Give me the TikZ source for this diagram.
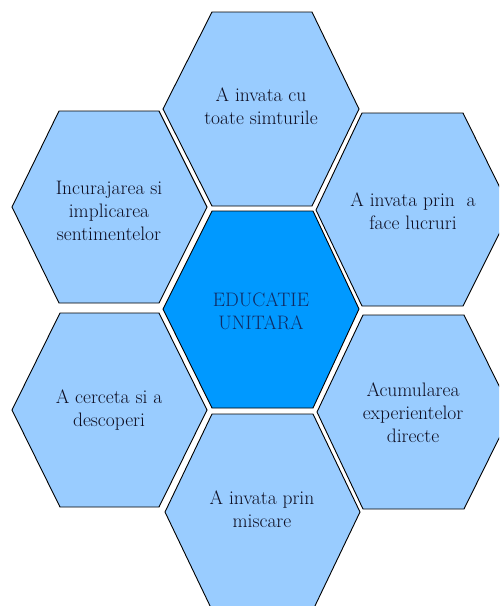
\documentclass[tikz,border=0pt]{standalone}
\definecolor{hexlight}{RGB}{153,204,255}
\definecolor{hexdark}{RGB}{0,153,255}
\definecolor{txtdark}{RGB}{14,14,34}
\definecolor{txtcenter}{RGB}{16,44,100}
\tikzset{
  hexborder/.style={draw=black,line width=0.9pt,line join=miter},
  hextext/.style={align=center,inner sep=0pt,font=\rmfamily\fontsize{19.5}{23}\selectfont},
}
\begin{document}
\begin{tikzpicture}[x=1pt,y=-1pt]
\useasboundingbox (0,0) rectangle (499,606);
\fill[white] (0,0) rectangle (499,606);
\clip (0,0) rectangle (499,606);
\filldraw[hexborder,fill=hexlight] (163,109) -- (212,12) -- (312,12) -- (359,109) -- (312,206) -- (212,206) -- cycle;
\filldraw[hexborder,fill=hexdark] (163,309) -- (212,211) -- (313,211) -- (359,309) -- (313,408) -- (212,408) -- cycle;
\filldraw[hexborder,fill=hexlight] (165,512) -- (212,414) -- (313,414) -- (360,512) -- (313,610) -- (212,610) -- cycle;
\filldraw[hexborder,fill=hexlight] (12,207) -- (59,111) -- (159,111) -- (207,207) -- (159,303) -- (59,303) -- cycle;
\filldraw[hexborder,fill=hexlight] (12,410) -- (60,313) -- (159,313) -- (207,410) -- (159,507) -- (60,507) -- cycle;
\filldraw[hexborder,fill=hexlight] (316,210) -- (362,113) -- (463,113) -- (511,210) -- (463,306) -- (362,306) -- cycle;
\filldraw[hexborder,fill=hexlight] (317,412) -- (363,315) -- (464,315) -- (512,412) -- (464,509) -- (363,509) -- cycle;
\node[hextext,text=txtdark] (top) at (261,106) {A invata cu\\toate simturile};
\node[hextext,text=txtcenter] (center) at (261,311) {EDUCATIE\\UNITARA};
\node[hextext,text=txtdark] (bottom) at (262,509) {A invata prin\\miscare};
\node[hextext,text=txtdark] (topleft) at (109,211) {Incurajarea si\\implicarea\\sentimentelor};
\node[hextext,text=txtdark] (bottomleft) at (109,410) {A cerceta si a\\descoperi};
\node[hextext,text=txtdark] (topright) at (413,211) {A invata prin\ \ a\\face lucruri};
\node[hextext,text=txtdark] (bottomright) at (413,413) {Acumularea\\experientelor\\directe};
\end{tikzpicture}
\end{document}
